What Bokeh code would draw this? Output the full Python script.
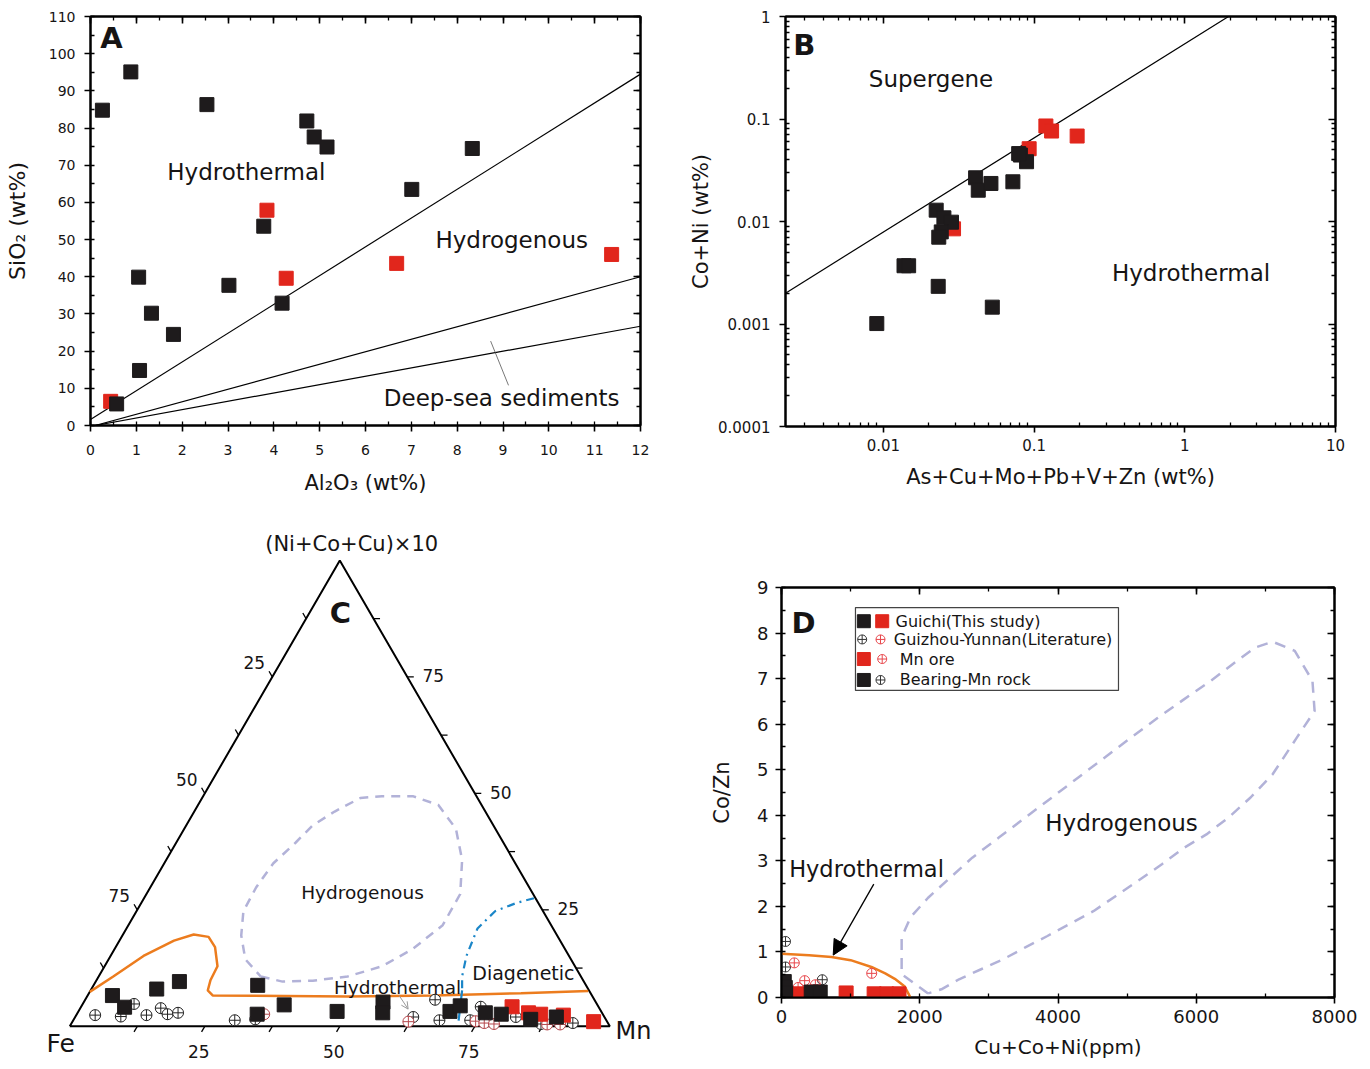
import math
from bokeh.plotting import figure
from bokeh.models import (LinearAxis, LogAxis, Range1d, FixedTicker, SingleIntervalTicker,
                          CustomJSTickFormatter, Arrow, NormalHead, OpenHead, Label)
from bokeh.layouts import row, column
from bokeh.embed import file_html
from bokeh.resources import INLINE
from bokeh.core.properties import value

FONT = "DejaVu Sans"
INK = "#161414"
BLK = "#1e1b1c"
RED = "#e1261c"
RED_LIT_C = "#b5474c"
RED_LIT_D = "#e8474c"
ORANGE = "#ec7c1e"
LAVENDER = "#b2b2d8"
BLUE = "#1b86c8"

# ---------------- Panel A data ----------------
A_black_al2o3 = [0.26, 0.88, 2.54, 4.72, 4.88, 5.16, 8.33, 7.01, 3.78, 1.05, 3.02, 4.18, 1.33, 1.81, 1.07, 0.57]
A_black_sio2 = [84.8, 95.1, 86.3, 81.9, 77.6, 74.9, 74.5, 63.5, 53.6, 39.9, 37.7, 32.9, 30.2, 24.5, 14.8, 5.8]
A_red_al2o3 = [0.44, 3.85, 4.27, 6.68, 11.37]
A_red_sio2 = [6.5, 57.9, 39.6, 43.6, 46.0]
A_bound_al2o3 = [[0, 12], [0.1, 12], [0.1, 12]]
A_bound_sio2 = [[1.6, 94.5], [0, 40], [0, 26.7]]
A_leader_al2o3 = [8.73, 9.12]
A_leader_sio2 = [22.7, 10.8]
A_text = ["Hydrothermal", "Hydrogenous", "Deep-sea sediments"]
A_text_x = [3.40, 9.19, 8.97]
A_text_y = [68.3, 49.8, 7.5]

# ---------------- Panel B data ----------------
B_black_sum = [0.00904, 0.0137, 0.0147, 0.0231, 0.0528, 0.0224, 0.0252, 0.0283, 0.0242, 0.0233,
               0.0409, 0.0426, 0.0517, 0.0723, 0.0811, 0.0891, 0.079]
B_black_coni = [0.00101, 0.0037, 0.0037, 0.00233, 0.00146, 0.0129, 0.01086, 0.00985, 0.00792, 0.00703,
                0.0267, 0.0202, 0.0235, 0.0244, 0.0445, 0.0383, 0.046]
B_red_sum = [0.0292, 0.0927, 0.1197, 0.1306, 0.193]
B_red_coni = [0.00848, 0.0513, 0.0855, 0.0763, 0.0682]
B_bound_sum = [0.00224, 1.95]
B_bound_coni = [0.002, 1.0]
B_xticks = [0.01, 0.1, 1, 10]
B_yticks = [0.0001, 0.001, 0.01, 0.1, 1]
B_text = ["Supergene", "Hydrothermal"]
B_text_x = [0.0207, 1.10]
B_text_y = [0.248, 0.00318]

# ---------------- Panel C data (ternary: top=(Ni+Co+Cu)x10 %, Mn %, Fe = rest) ----------------
C_black_top = [6.6, 4.1, 8.0, 9.6, 8.8, 2.6, 4.6, 3.2, 5.2, 2.9, 3.2, 4.4, 2.9, 2.6, 1.5, 2.0]
C_black_mn = [4.6, 8.1, 12.1, 15.5, 30.4, 33.4, 37.4, 47.9, 55.4, 56.5, 68.8, 70.1, 75.5, 78.6, 84.6, 89.1]
C_red_top = [4.2, 2.9, 2.6, 2.4, 1.0]
C_red_mn = [79.8, 83.5, 85.9, 90.2, 96.5]
C_lit_black_top = [2.4, 2.1, 4.8, 2.4, 3.9, 2.6, 2.9, 1.3, 1.5, 2.0, 5.7, 1.3, 1.3, 4.2, 2.0, 0.7, 0.5]
C_lit_black_mn = [3.5, 8.4, 9.5, 13.0, 14.9, 16.8, 18.6, 29.9, 33.6, 62.6, 64.8, 67.8, 73.5, 74.0, 81.6, 92.8, 87.0]
C_lit_red_top = [2.6, 1.0, 1.1, 0.7, 0.5, 0.4, 0.4]
C_lit_red_mn = [34.7, 62.2, 74.6, 76.4, 78.3, 88.2, 90.6]
C_hydro_top = [7.4, 10.7, 15.1, 18.4, 19.7, 19.2, 17.0, 12.9, 9.9, 7.7, 6.6, 6.4, 6.6, 7.1, 7.6]
C_hydro_mn = [0.0, 2.7, 6.1, 10.1, 13.1, 16.1, 18.4, 20.9, 21.1, 21.7, 23.2, 48.2, 64.2, 80.0, 92.2]
C_hyg_top = [10.7, 9.6, 9.8, 10.7, 12.9, 16.6, 21.7, 28.4, 35.7, 42.4, 47.5, 49.4, 49.4, 49.0, 46.1,
             43.1, 39.4, 35.0, 29.8, 24.7, 19.5, 14.4, 10.7]
C_hyg_mn = [30.0, 34.6, 40.1, 46.1, 51.4, 55.2, 58.2, 58.1, 54.8, 50.3, 44.5, 38.8, 33.1, 29.3, 26.0,
            23.4, 22.1, 20.2, 19.6, 19.8, 22.0, 25.3, 30.0]
C_diag_top = [27.5, 26.5, 24.7, 21.0, 15.1, 10.7, 7.7]
C_diag_mn = [72.2, 69.5, 66.4, 65.0, 65.9, 67.3, 68.8]
C_diag2_top = [7.7, 1.2]
C_diag2_mn = [68.8, 71.4]
C_ticks = [12.5, 25, 37.5, 50, 62.5, 75, 87.5]
C_tick_labels = [25, 50, 75]

# ---------------- Panel D data ----------------
D_black_sum = [40, 55, 60, 430, 560]
D_black_cozn = [0.35, 0.22, 0.10, 0.12, 0.12]
D_red_sum = [240, 935, 1340, 1520, 1700]
D_red_cozn = [0.08, 0.10, 0.08, 0.08, 0.08]
D_lit_black_sum = [58, 58, 60, 590]
D_lit_black_cozn = [1.23, 0.67, 0.38, 0.39]
D_lit_red_sum = [185, 335, 490, 1305, 240]
D_lit_red_cozn = [0.76, 0.37, 0.28, 0.53, 0.22]
D_hydro_sum = [0, 400, 723, 1000, 1301, 1500, 1639, 1783, 1855, 1865]
D_hydro_cozn = [0.96, 0.93, 0.89, 0.82, 0.67, 0.53, 0.41, 0.24, 0.03, -0.1]
D_hyg_sum = [2121, 1738, 1738, 1866, 2121, 2441, 2760, 3144, 3527, 3911, 4294, 4677, 5061, 5444, 5827,
             6211, 6530, 6850, 7105, 7425, 7681, 7712, 7457, 7105, 6786, 6466, 6147, 5827, 5508, 5157,
             4837, 4518, 4166, 3847, 3527, 3208, 2888, 2569, 2313, 2121]
D_hyg_cozn = [0.09, 0.51, 1.32, 1.76, 2.19, 2.63, 3.07, 3.51, 3.95, 4.39, 4.83, 5.27, 5.71, 6.14, 6.55,
              6.95, 7.32, 7.68, 7.81, 7.61, 6.95, 6.29, 5.71, 4.90, 4.39, 3.95, 3.58, 3.29, 2.93, 2.56,
              2.23, 1.90, 1.61, 1.35, 1.10, 0.84, 0.62, 0.40, 0.18, 0.09]
D_legend = ["Guichi(This study)", "Guizhou-Yunnan(Literature)", "Mn ore", "Bearing-Mn rock"]


def add_label(p, x, y, text, size, bold=False, align="center", baseline="middle", color=INK, angle=0):
    p.add_layout(Label(x=x, y=y, text=text, text_font=FONT, text_font_size=f"{size}px",
                       text_font_style="bold" if bold else "normal", angle=angle,
                       text_align=align, text_baseline=baseline, text_color=color))


BLANK = CustomJSTickFormatter(code="return '';")


def style_axis(ax, size, mirror=False):
    ax.axis_line_color = "black"
    ax.axis_line_width = 2
    ax.major_tick_line_color = "black"
    ax.minor_tick_line_color = "black"
    ax.major_tick_line_width = 1.6
    ax.minor_tick_line_width = 1.3
    ax.minor_tick_in = 4
    ax.minor_tick_out = 0
    ax.major_label_text_font = FONT
    ax.major_label_text_color = INK
    if mirror:
        ax.major_tick_in = 7
        ax.major_tick_out = 0
        ax.formatter = BLANK
        ax.major_label_text_font_size = "1px"
        ax.major_label_standoff = 0
    else:
        ax.major_tick_in = 0
        ax.major_tick_out = 6
        ax.major_label_text_font_size = f"{size}px"
    ax.axis_label_text_font = FONT
    ax.axis_label_text_font_style = "normal"
    ax.axis_label_text_color = INK


def no_align(p):
    try:
        p.frame_align = False
    except Exception:
        pass


def finish(p):
    p.xgrid.visible = False
    p.ygrid.visible = False
    p.outline_line_color = "black"
    p.outline_line_width = 2
    p.background_fill_color = "white"
    p.border_fill_color = "white"
    no_align(p)


# ================= Panel A =================
pA = figure(width=680, height=530, x_range=Range1d(0, 12), y_range=Range1d(0, 110),
            output_backend="svg", toolbar_location=None, title=None,
            min_border_left=90, min_border_right=40, min_border_top=16, min_border_bottom=105)
finish(pA)
A_xt = SingleIntervalTicker(interval=1, num_minor_ticks=2)
A_yt = SingleIntervalTicker(interval=10, num_minor_ticks=2)
pA.xaxis.ticker = A_xt
pA.yaxis.ticker = A_yt
for ax in pA.xaxis + pA.yaxis:
    style_axis(ax, 14)
pA.xaxis.axis_label = "Al\u2082O\u2083 (wt%)"
pA.yaxis.axis_label = "SiO\u2082 (wt%)"
pA.xaxis.axis_label_text_font_size = "21px"
pA.yaxis.axis_label_text_font_size = "22px"
pA.xaxis.major_label_standoff = 13
pA.yaxis.major_label_standoff = 9
pA.xaxis.axis_label_standoff = 13
pA.yaxis.axis_label_standoff = 16
axA_top = LinearAxis(ticker=A_xt)
axA_right = LinearAxis(ticker=A_yt)
style_axis(axA_top, 14, mirror=True)
style_axis(axA_right, 14, mirror=True)
pA.add_layout(axA_top, "above")
pA.add_layout(axA_right, "right")

pA.multi_line(A_bound_al2o3, A_bound_sio2, line_color="black", line_width=1.2)
pA.line(A_leader_al2o3, A_leader_sio2, line_color="#555", line_width=0.8)
pA.scatter(A_red_al2o3, A_red_sio2, marker="square", size=14, fill_color=RED, line_color=RED)
pA.scatter(A_black_al2o3, A_black_sio2, marker="square", size=14, fill_color=BLK, line_color=BLK)
add_label(pA, 0.46, 104.1, "A", 29, bold=True)
for t, x, y in zip(A_text, A_text_x, A_text_y):
    add_label(pA, x, y, t, 23)

# ================= Panel B =================
pB = figure(width=688, height=530, x_axis_type="log", y_axis_type="log",
            x_range=Range1d(0.00224, 10), y_range=Range1d(0.0001, 1),
            output_backend="svg", toolbar_location=None, title=None,
            min_border_left=105, min_border_right=33, min_border_top=16, min_border_bottom=104)
finish(pB)
B_xminor = [m * 10.0 ** e for e in range(-3, 1) for m in range(2, 10) if 0.00224 < m * 10.0 ** e < 10]
B_yminor = [m * 10.0 ** e for e in range(-4, 0) for m in range(2, 10)]
B_xt = FixedTicker(ticks=B_xticks, minor_ticks=B_xminor)
B_yt = FixedTicker(ticks=B_yticks, minor_ticks=B_yminor)
fmt = CustomJSTickFormatter(code="return Number(tick.toPrecision(2)).toString();")
pB.xaxis.ticker = B_xt
pB.yaxis.ticker = B_yt
pB.xaxis.formatter = fmt
pB.yaxis.formatter = fmt
for ax in pB.xaxis + pB.yaxis:
    style_axis(ax, 15)
pB.xaxis.axis_label = "As+Cu+Mo+Pb+V+Zn (wt%)"
pB.yaxis.axis_label = "Co+Ni (wt%)"
pB.xaxis.axis_label_text_font_size = "21px"
pB.yaxis.axis_label_text_font_size = "21px"
pB.xaxis.major_label_standoff = 6
pB.yaxis.major_label_standoff = 9
pB.xaxis.axis_label_standoff = 11
pB.yaxis.axis_label_standoff = 2
axB_top = LogAxis(ticker=B_xt)
axB_right = LogAxis(ticker=B_yt)
style_axis(axB_top, 15, mirror=True)
style_axis(axB_right, 15, mirror=True)
pB.add_layout(axB_top, "above")
pB.add_layout(axB_right, "right")

pB.line(B_bound_sum, B_bound_coni, line_color="black", line_width=1.2)
pB.scatter(B_red_sum, B_red_coni, marker="square", size=14, fill_color=RED, line_color=RED)
pB.scatter(B_black_sum, B_black_coni, marker="square", size=14, fill_color=BLK, line_color=BLK)
add_label(pB, 0.00298, 0.533, "B", 29, bold=True)
for t, x, y in zip(B_text, B_text_x, B_text_y):
    add_label(pB, x, y, t, 23)

# ================= Panel C (ternary) =================
S3 = math.sqrt(3) / 2


def tern(top, mn):
    return [m + a / 2 for a, m in zip(top, mn)], [a * S3 for a in top]


pC = figure(width=680, height=538, x_range=Range1d(-12.83, 113.09), y_range=Range1d(-7.84, 92.16),
            output_backend="svg", toolbar_location=None, title=None,
            x_axis_location=None, y_axis_location=None, min_border=0)
pC.xgrid.visible = False
pC.ygrid.visible = False
pC.outline_line_color = None
no_align(pC)

tx, ty = tern([0, 0, 100, 0], [0, 100, 0, 0])
pC.line(tx, ty, line_color="black", line_width=2)

L = 1.2
seg_x0, seg_y0, seg_x1, seg_y1 = [], [], [], []
for v in C_ticks:
    bx, by = tern([0], [v])
    seg_x0.append(bx[0]); seg_y0.append(by[0]); seg_x1.append(bx[0] - 0.5 * L); seg_y1.append(by[0] - S3 * L)
    rx, ry = tern([v], [100 - v])
    seg_x0.append(rx[0]); seg_y0.append(ry[0]); seg_x1.append(rx[0] + L); seg_y1.append(ry[0])
    lx, ly = tern([100 - v], [0])
    seg_x0.append(lx[0]); seg_y0.append(ly[0]); seg_x1.append(lx[0] - 0.5 * L); seg_y1.append(ly[0] + S3 * L)
pC.segment(seg_x0, seg_y0, seg_x1, seg_y1, line_color="black", line_width=1.3)

lab_x, lab_y, lab_t, lab_dx, lab_dy = [], [], [], [], []
for v in C_tick_labels:
    bx, by = tern([0], [v])
    lab_x.append(bx[0]); lab_y.append(by[0]); lab_t.append(str(v)); lab_dx.append(-6); lab_dy.append(25)
    rx, ry = tern([v], [100 - v])
    lab_x.append(rx[0]); lab_y.append(ry[0]); lab_t.append(str(v)); lab_dx.append(26); lab_dy.append(-1)
    lx, ly = tern([100 - v], [0])
    lab_x.append(lx[0]); lab_y.append(ly[0]); lab_t.append(str(v)); lab_dx.append(-18); lab_dy.append(-14)
pC.text(lab_x, lab_y, text=lab_t, x_offset=lab_dx, y_offset=lab_dy, text_font=value(FONT),
        text_font_size="17px", text_align="center", text_baseline="middle", text_color=INK)

hx, hy = tern(C_hyg_top, C_hyg_mn)
pC.line(hx, hy, line_color=LAVENDER, line_width=2.5, line_dash="9 7")
ox, oy = tern(C_hydro_top, C_hydro_mn)
pC.line(ox, oy, line_color=ORANGE, line_width=2.5)
dx, dy = tern(C_diag_top, C_diag_mn)
pC.line(dx, dy, line_color=BLUE, line_width=2.2, line_dash="8 5 2 5")
d2x, d2y = tern(C_diag2_top, C_diag2_mn)
pC.line(d2x, d2y, line_color=BLUE, line_width=2.2)

lbx, lby = tern(C_lit_black_top, C_lit_black_mn)
pC.scatter(lbx, lby, marker="circle_cross", size=11, fill_color="white", line_color="#222", line_width=1)
lrx, lry = tern(C_lit_red_top, C_lit_red_mn)
pC.scatter(lrx, lry, marker="circle_cross", size=11, fill_color="white", line_color=RED_LIT_C, line_width=1)
crx, cry = tern(C_red_top, C_red_mn)
pC.scatter(crx, cry, marker="square", size=14, fill_color=RED, line_color=RED)
cbx, cby = tern(C_black_top, C_black_mn)
pC.scatter(cbx, cby, marker="square", size=14, fill_color=BLK, line_color=BLK)

ax0, ay0 = tern([6.6], [57.7])
ax1, ay1 = tern([3.7], [60.8])
pC.add_layout(Arrow(end=OpenHead(size=7, line_color="#999", line_width=1),
                    x_start=ax0[0], y_start=ay0[0], x_end=ax1[0], y_end=ay1[0],
                    line_color="#999", line_width=1))

add_label(pC, 52.2, 89.6, "(Ni+Co+Cu)\u00d710", 21)
add_label(pC, 50.1, 76.9, "C", 29, bold=True)
add_label(pC, 54.2, 24.9, "Hydrogenous", 18.5)
add_label(pC, 60.7, 7.2, "Hydrothermal", 18.5)
add_label(pC, 84.0, 10.0, "Diagenetic", 19)
add_label(pC, -1.7, -3.2, "Fe", 25)
add_label(pC, 104.4, -0.8, "Mn", 24)

# ================= Panel D =================
pD = figure(width=688, height=538, x_range=Range1d(0, 8000), y_range=Range1d(0, 9),
            output_backend="svg", toolbar_location=None, title=None,
            min_border_left=101, min_border_right=34, min_border_top=57, min_border_bottom=71)
finish(pD)
D_xt = SingleIntervalTicker(interval=2000, num_minor_ticks=2)
D_yt = SingleIntervalTicker(interval=1, num_minor_ticks=2)
pD.xaxis.ticker = D_xt
pD.yaxis.ticker = D_yt
for ax in pD.xaxis + pD.yaxis:
    style_axis(ax, 18)
pD.xaxis.axis_label = "Cu+Co+Ni(ppm)"
pD.yaxis.axis_label = "Co/Zn"
pD.xaxis.axis_label_text_font_size = "20px"
pD.yaxis.axis_label_text_font_size = "21px"
pD.xaxis.major_label_standoff = 6
pD.yaxis.major_label_standoff = 7
pD.xaxis.axis_label_standoff = 9
pD.yaxis.axis_label_standoff = 20
axD_top = LinearAxis(ticker=D_xt)
axD_right = LinearAxis(ticker=D_yt)
style_axis(axD_top, 18, mirror=True)
style_axis(axD_right, 18, mirror=True)
pD.add_layout(axD_top, "above")
pD.add_layout(axD_right, "right")

pD.line(D_hyg_sum, D_hyg_cozn, line_color=LAVENDER, line_width=2.5, line_dash="11 8")
pD.line(D_hydro_sum, D_hydro_cozn, line_color=ORANGE, line_width=2.5)
pD.scatter(D_lit_black_sum, D_lit_black_cozn, marker="circle_cross", size=10, fill_color=None,
           line_color="#333", line_width=1)
pD.scatter(D_lit_red_sum, D_lit_red_cozn, marker="circle_cross", size=10, fill_color=None,
           line_color=RED_LIT_D, line_width=1)
pD.scatter(D_red_sum, D_red_cozn, marker="square", size=14, fill_color=RED, line_color=RED)
pD.scatter(D_black_sum, D_black_cozn, marker="square", size=14, fill_color=BLK, line_color=BLK)
pD.add_layout(Arrow(end=NormalHead(size=15, fill_color="black", line_color="black"),
                    x_start=1335, y_start=2.49, x_end=748, y_end=0.93,
                    line_color="black", line_width=1.3))

# legend (drawn manually: two symbols per entry)
pD.quad(left=[1070], right=[4875], top=[8.56], bottom=[6.74], fill_color="white",
        line_color="#444", line_width=1.2)
row_y = [8.26, 7.86, 7.43, 6.97]
pD.scatter([1191, 1191], [row_y[0], row_y[3]], marker="square", size=13, fill_color=BLK, line_color=BLK)
pD.scatter([1457, 1191], [row_y[0], row_y[2]], marker="square", size=13, fill_color=RED, line_color=RED)
pD.scatter([1167, 1432], [row_y[1], row_y[3]], marker="circle_cross", size=9, fill_color=None,
           line_color="#333", line_width=1)
pD.scatter([1432, 1457], [row_y[1], row_y[2]], marker="circle_cross", size=9, fill_color=None,
           line_color=RED_LIT_D, line_width=1)
for t, y, x in zip(D_legend, row_y, [1649, 1625, 1711, 1711]):
    add_label(pD, x, y, t, 16, align="left")

add_label(pD, 318, 8.21, "D", 29, bold=True)
add_label(pD, 4919, 3.82, "Hydrogenous", 23)
add_label(pD, 1230, 2.81, "Hydrothermal", 22.5)

layout = column(row(pA, pB), row(pC, pD))
open("out.html", "w").write(file_html(layout, INLINE))
